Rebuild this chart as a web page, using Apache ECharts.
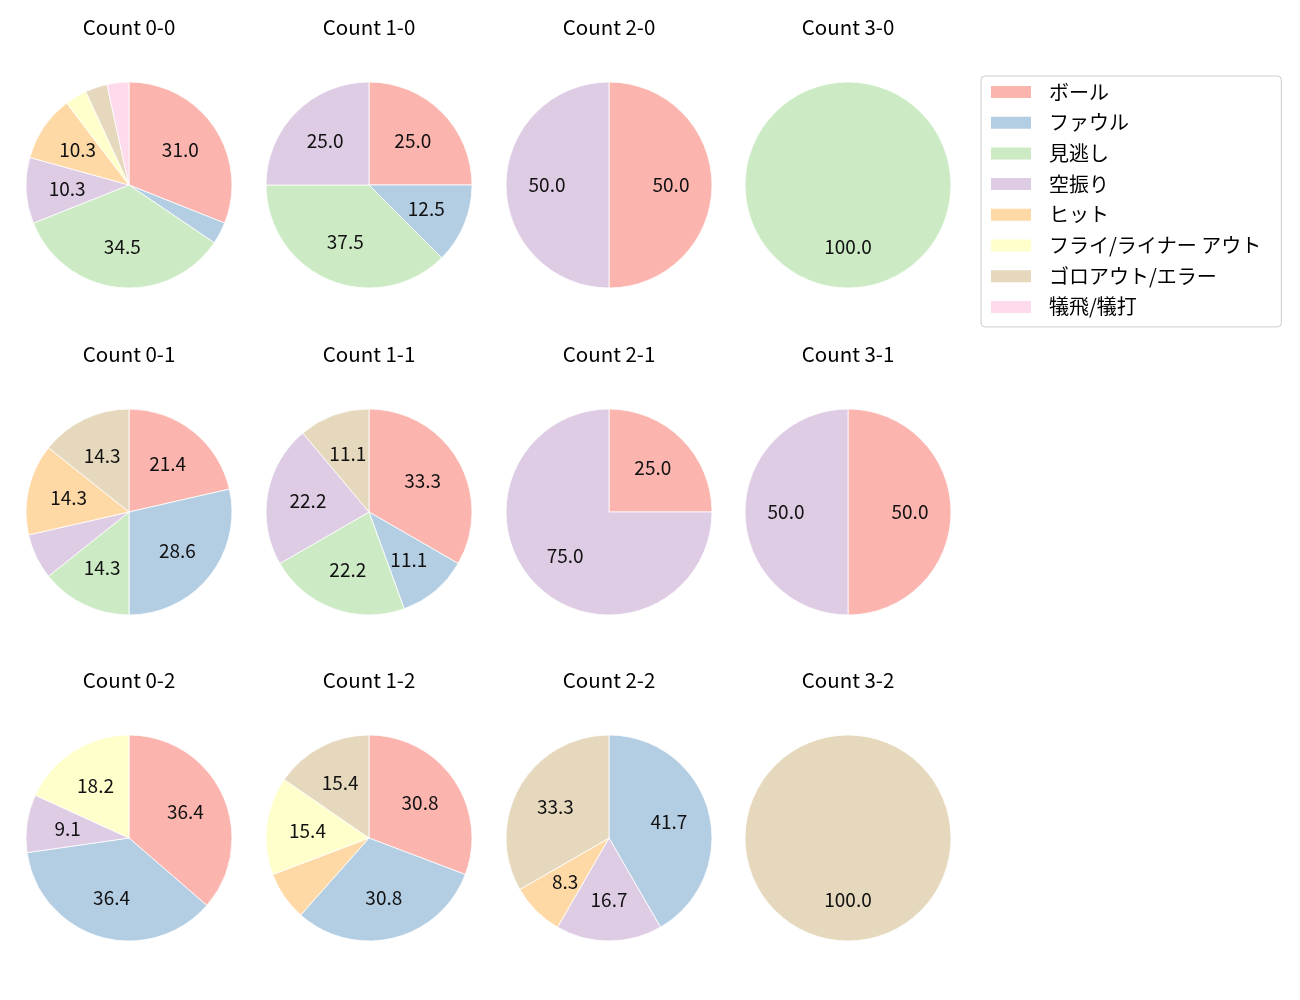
<!DOCTYPE html>
<html>
<head>
<meta charset="utf-8">
<script src="https://cdn.jsdelivr.net/npm/echarts@6/dist/echarts.min.js"></script>
<style>
html,body{margin:0;padding:0;background:#fff;}
#main{width:1300px;height:1000px;}
</style>
</head>
<body>
<div id="main"></div>
<script>
// Categories (legend order)
const categories = ['ボール', 'ファウル', '見逃し', '空振り', 'ヒット', 'フライ/ライナー アウト', 'ゴロアウト/エラー', '犠飛/犠打'];
const palette = ['#fbb4ae', '#b3cde3', '#ccebc5', '#decbe4', '#fed9a6', '#ffffcc', '#e5d8bd', '#fddaec'];

// Subplot titles (row-major)
const titles = ['Count 0-0', 'Count 1-0', 'Count 2-0', 'Count 3-0',
                'Count 0-1', 'Count 1-1', 'Count 2-1', 'Count 3-1',
                'Count 0-2', 'Count 1-2', 'Count 2-2', 'Count 3-2'];

// Pitch counts per category for each count situation
const count00 = [9, 1, 10, 3, 3, 1, 1, 1];
const count10 = [2, 1, 3, 2, 0, 0, 0, 0];
const count20 = [1, 0, 0, 1, 0, 0, 0, 0];
const count30 = [0, 0, 1, 0, 0, 0, 0, 0];
const count01 = [3, 4, 2, 1, 2, 0, 2, 0];
const count11 = [3, 1, 2, 2, 0, 0, 1, 0];
const count21 = [1, 0, 0, 3, 0, 0, 0, 0];
const count31 = [1, 0, 0, 1, 0, 0, 0, 0];
const count02 = [4, 4, 0, 1, 0, 2, 0, 0];
const count12 = [4, 4, 0, 0, 1, 2, 2, 0];
const count22 = [0, 5, 0, 2, 1, 0, 4, 0];
const count32 = [0, 0, 0, 0, 0, 0, 1, 0];

const allCounts = [count00, count10, count20, count30,
                   count01, count11, count21, count31,
                   count02, count12, count22, count32];

// Layout
const colX = [129, 369, 609, 848];
const rowY = [185, 512, 838];
const R = 103;
const FONT = '"Noto Sans CJK JP", "Noto Sans", sans-serif';

const series = [];
const titleList = [];
allCounts.forEach(function (counts, i) {
  const cx = colX[i % 4], cy = rowY[Math.floor(i / 4)];
  const total = counts.reduce(function (a, b) { return a + b; }, 0);
  const slices = [];
  const labels = [];
  counts.forEach(function (v, k) {
    if (v > 0) {
      slices.push({ name: categories[k], value: v, itemStyle: { color: palette[k] } });
      labels.push({ value: v, pct: v / total * 100 });
    }
  });
  series.push({
    type: 'pie',
    center: [cx, cy],
    radius: [0, R],
    startAngle: 90,
    clockwise: true,
    avoidLabelOverlap: false,
    silent: true,
    animation: false,
    label: { show: false },
    labelLine: { show: false },
    emphasis: { disabled: true },
    itemStyle: { borderColor: '#ffffff', borderWidth: 0.8 },
    data: slices
  });
  series.push({
    type: 'pie',
    center: [cx, cy],
    radius: [0, R * 1.145],
    startAngle: 90,
    clockwise: true,
    avoidLabelOverlap: false,
    silent: true,
    animation: false,
    emphasis: { disabled: true },
    itemStyle: { color: 'rgba(0,0,0,0)', borderWidth: 0 },
    label: {
      show: true,
      position: 'inside',
      color: '#111',
      fontSize: 19,
      fontFamily: FONT,
      formatter: function (p) {
        const pct = labels[p.dataIndex].pct;
        return pct >= 8 ? pct.toFixed(1) : '';
      }
    },
    labelLine: { show: false },
    data: labels.map(function (d) { return { value: d.value }; })
  });
  titleList.push({
    text: titles[i],
    left: cx,
    top: cy - 168,
    textAlign: 'center',
    padding: 0,
    textStyle: { fontSize: 20.5, fontWeight: 'normal', color: '#000', fontFamily: FONT }
  });
});

const chart = echarts.init(document.getElementById('main'), null, { renderer: 'canvas' });
chart.setOption({
  backgroundColor: '#ffffff',
  animation: false,
  title: titleList,
  legend: {
    data: categories,
    orient: 'vertical',
    left: 981,
    top: 76,
    icon: 'rect',
    itemWidth: 42,
    itemHeight: 14,
    itemGap: 10.7,
    padding: [6, 20, 10, 8],
    borderColor: '#cccccc',
    borderWidth: 1,
    borderRadius: 4,
    selectedMode: false,
    textStyle: { fontSize: 20, color: '#000', fontFamily: FONT, lineHeight: 20, padding: [0, 0, 0, 12] }
  },
  series: series
});
</script>
</body>
</html>
